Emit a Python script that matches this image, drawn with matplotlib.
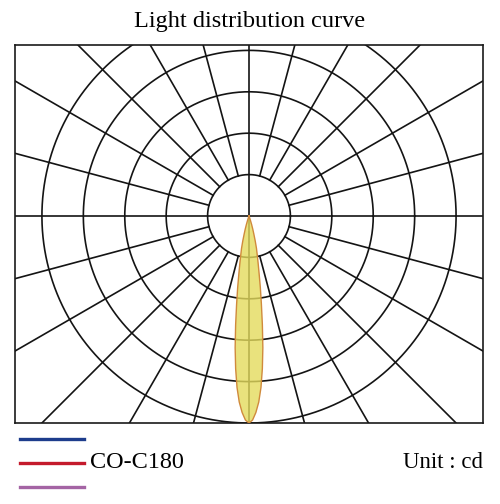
import numpy as np
import matplotlib
matplotlib.use("Agg")
import matplotlib.pyplot as plt
from matplotlib.lines import Line2D

plt.rcParams['font.family'] = ['Liberation Serif', 'DejaVu Serif']

# beam profile, angle from nadir (deg) -> intensity in ring units (5 rings = max)
angles = [0, 1, 2, 3, 4, 5, 6, 7, 8, 9, 10, 11, 12, 13, 14, 15, 16, 17, 18, 19, 20]
intensity = [5.0, 4.93, 4.75, 4.5, 4.15, 3.7, 3.2, 2.65, 2.15, 1.75, 1.4, 1.15,
             0.95, 0.8, 0.62, 0.45, 0.33, 0.22, 0.12, 0.05, 0.0]

ring_radii = [1, 2, 3, 4, 5]
spoke_step = 15
legend_colors = ['#1d3c8c', '#c41a2c', '#a464a4']
legend_labels = ['', 'CO-C180', '']

fig = plt.figure(figsize=(5.0, 5.04), dpi=100)
ax = fig.add_axes([15/500, 81/504, 468/500, 378/504])
ax.set_xlim(-5.65, 5.65)
ax.set_ylim(-5.0, 4.13)
ax.set_xticks([])
ax.set_yticks([])
for s in ax.spines.values():
    s.set_linewidth(1.2)
    s.set_color('#1a1a1a')

grid_kw = dict(color='#141414', lw=1.2, zorder=1)
t = np.linspace(0, 2*np.pi, 400)
for r in ring_radii:
    ax.plot(r*np.cos(t), r*np.sin(t), **grid_kw)

for a in range(0, 360, spoke_step):
    th = np.radians(a)
    if a % 90 == 0:
        r0 = 0
    else:
        r0 = ring_radii[0]
    ax.plot([r0*np.cos(th), 10*np.cos(th)], [r0*np.sin(th), 10*np.sin(th)], **grid_kw)

# beam (mirrored around nadir)
th = np.radians(np.array(angles))
I = np.array(intensity)
th_full = np.concatenate([-th[::-1], th[1:]])
I_full = np.concatenate([I[::-1], I[1:]])
xs = I_full*np.sin(th_full)
ys = -I_full*np.cos(th_full)
ax.fill(xs, ys, facecolor='#e4db5c', alpha=0.8, edgecolor='none', zorder=2)
ax.plot(xs, ys, color='#d08a3c', lw=1.0, zorder=3)

fig.text(0.5, 1 - 22/504, 'Light distribution curve', ha='center', va='center', fontsize=17.5)

for i, (c, lab) in enumerate(zip(legend_colors, legend_labels)):
    y = 1 - (439 + 24*i)/504
    fig.add_artist(Line2D([20/500, 84/500], [y, y], color=c, lw=2.4, transform=fig.transFigure))
    if lab:
        fig.text(90/500, y, lab, ha='left', va='center', fontsize=17.5)

fig.text(483/500, 1 - 463/504, 'Unit : cd', ha='right', va='center', fontsize=16.5)

fig.savefig('out.png', dpi=100, facecolor='white')
